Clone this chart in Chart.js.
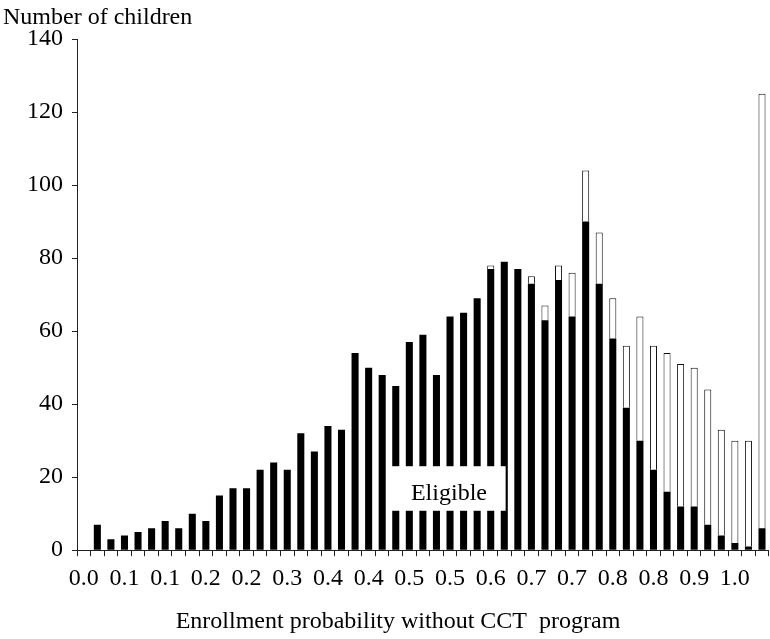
<!DOCTYPE html>
<html lang="en">
<head>
  <meta charset="UTF-8">
  <title>Enrollment probability without CCT program</title>
  <script src="https://cdn.jsdelivr.net/npm/chart.js"></script>
  <style>
    body {
      margin: 0;
      padding: 0;
      background-color: #fff;
    }
    #chart-container {
      width: 770px;
      height: 639px;
    }
  </style>
</head>
<body>
  <div id="chart-container">
    <canvas id="enrollChart"></canvas>
  </div>

  <script>
    // categories: enrollment probability bins, 0.00 .. 1.00 step 0.02
    const categories = [
      '0.00', '0.02', '0.04', '0.06', '0.08', '0.10', '0.12', '0.14', '0.16', '0.18',
      '0.20', '0.22', '0.24', '0.26', '0.28', '0.30', '0.32', '0.34', '0.36', '0.38',
      '0.40', '0.42', '0.44', '0.46', '0.48', '0.50', '0.52', '0.54', '0.56', '0.58',
      '0.60', '0.62', '0.64', '0.66', '0.68', '0.70', '0.72', '0.74', '0.76', '0.78',
      '0.80', '0.82', '0.84', '0.86', '0.88', '0.90', '0.92', '0.94', '0.96', '0.98',
      '1.00'
    ];

    // black part of each bar
    const eligible = [
      0, 7, 3, 4, 5, 6, 8, 6, 10, 8,
      15, 17, 17, 22, 24, 22, 32, 27, 34, 33,
      54, 50, 48, 45, 57, 59, 48, 64, 65, 69,
      77, 79, 77, 73, 63, 74, 64, 90, 73, 58,
      39, 30, 22, 16, 12, 12, 7, 4, 2, 1,
      6
    ];

    // white part stacked on top
    const notEligible = [
      0, 0, 0, 0, 0, 0, 0, 0, 0, 0,
      0, 0, 0, 0, 0, 0, 0, 0, 0, 0,
      0, 0, 0, 0, 0, 0, 0, 0, 0, 0,
      1, 0, 0, 2, 4, 4, 12, 14, 14, 11,
      17, 34, 34, 38, 39, 38, 37, 29, 28, 29,
      119
    ];

    // one label every third bin
    const tickLabels = [
      '0.0', '0.1', '0.1', '0.2', '0.2', '0.3', '0.4', '0.4', '0.5',
      '0.5', '0.6', '0.7', '0.7', '0.8', '0.8', '0.9', '1.0'
    ];

    const yTicks = [0, 20, 40, 60, 80, 100, 120, 140];

    Chart.defaults.font.family = "'Liberation Serif', 'Times New Roman', serif";
    Chart.defaults.font.size = 24;
    Chart.defaults.color = '#000';

    const extraText = {
      id: 'extraText',
      afterDatasetsDraw(chart) {
        const { ctx, scales: { x, y } } = chart;
        // "Eligible" label box over the bars
        const l = x.getPixelForValue(22.72);
        const r = x.getPixelForValue(31.1);
        const t = y.getPixelForValue(23);
        const b = y.getPixelForValue(10.8);
        ctx.save();
        ctx.fillStyle = '#fff';
        ctx.fillRect(l, t, r - l, b - t);
        ctx.fillStyle = '#000';
        ctx.font = "24px 'Liberation Serif'";
        ctx.textAlign = 'left';
        ctx.textBaseline = 'alphabetic';
        ctx.fillText('Eligible', l + 19, b - 11);
        ctx.restore();
      },
      afterDraw(chart) {
        const ctx = chart.ctx;
        ctx.save();
        ctx.fillStyle = '#000';
        ctx.font = "24px 'Liberation Serif'";
        ctx.textAlign = 'left';
        ctx.textBaseline = 'alphabetic';
        ctx.fillText('Number of children', 3, 24);
        ctx.textAlign = 'center';
        ctx.textBaseline = 'middle';
        ctx.fillText('Enrollment probability without CCT  program', 398, 622);
        ctx.restore();
      }
    };

    const ctx = document.getElementById('enrollChart').getContext('2d');
    const enrollChart = new Chart(ctx, {
      type: 'bar',
      data: {
        labels: categories,
        datasets: [{
          label: 'Eligible',
          data: eligible,
          backgroundColor: '#000',
          borderWidth: 0,
          barPercentage: 0.52,
          categoryPercentage: 1
        }, {
          label: 'Not eligible',
          data: notEligible,
          backgroundColor: '#fff',
          borderColor: '#111',
          borderWidth: c => (c.raw ? 1 : 0),
          barPercentage: 0.52,
          categoryPercentage: 1
        }]
      },
      options: {
        responsive: true,
        maintainAspectRatio: false,
        animation: false,
        layout: {
          padding: { left: 18, top: 39, right: 0, bottom: 38 }
        },
        plugins: {
          legend: { display: false },
          tooltip: { enabled: false }
        },
        scales: {
          x: {
            stacked: true,
            offset: true,
            border: { display: true, color: '#222', width: 1 },
            grid: {
              offset: true,
              drawOnChartArea: false,
              drawTicks: true,
              tickLength: 6,
              color: '#222'
            },
            ticks: {
              autoSkip: false,
              maxRotation: 0,
              padding: 8,
              callback: (v, i) => (i % 3 === 0 ? tickLabels[i / 3] : '')
            }
          },
          y: {
            stacked: true,
            min: 0,
            max: 140,
            afterBuildTicks: axis => {
              axis.ticks = yTicks.map(v => ({ value: v }));
            },
            border: { display: true, color: '#222', width: 1 },
            grid: {
              drawOnChartArea: false,
              drawTicks: true,
              tickLength: 5,
              color: '#222'
            },
            ticks: {
              padding: 9
            }
          }
        }
      },
      plugins: [extraText]
    });
  </script>
</body>
</html>
